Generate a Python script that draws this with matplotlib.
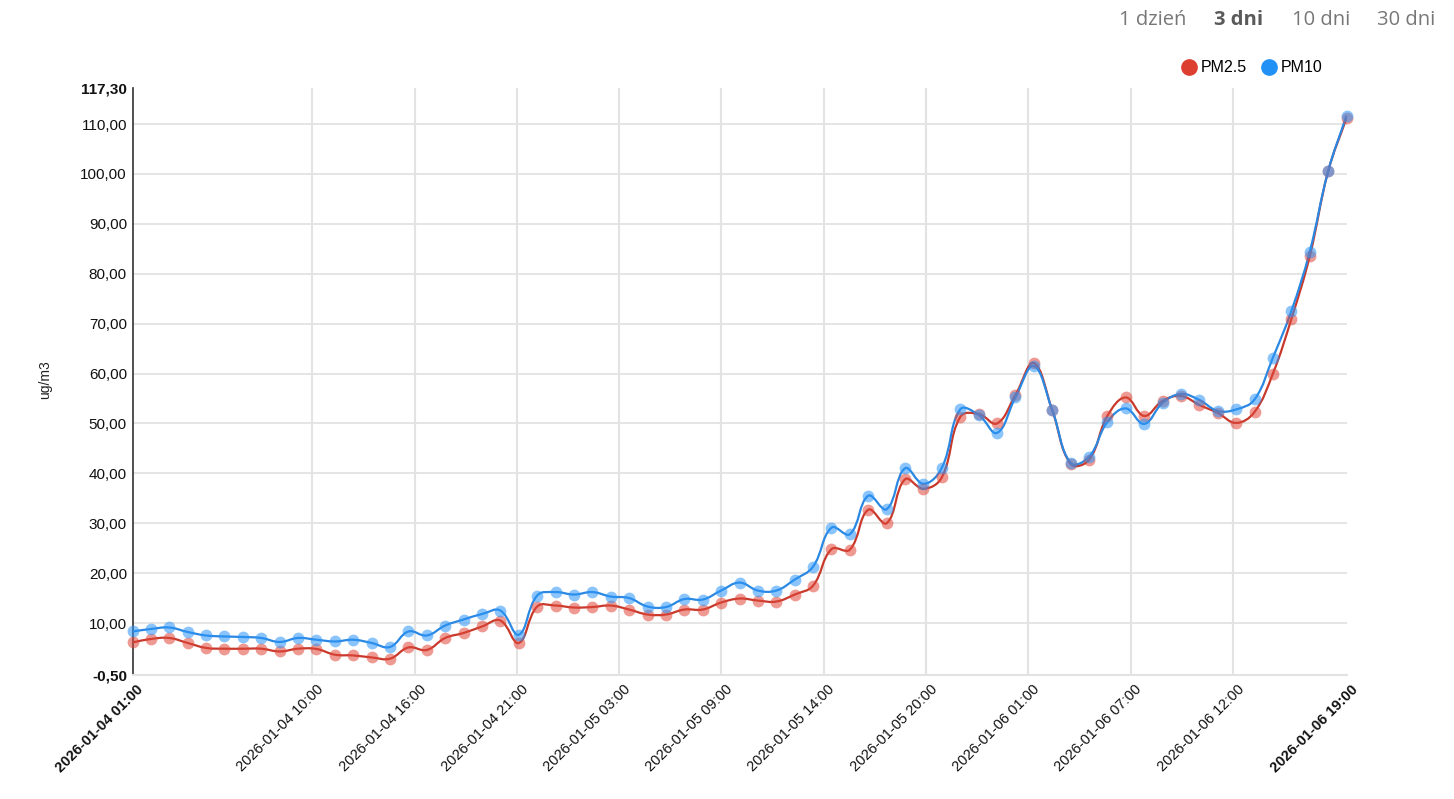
import numpy as np
import pandas as pd
import matplotlib
matplotlib.use('Agg')
import matplotlib.pyplot as plt
import matplotlib.transforms as mtransforms
from matplotlib.path import Path
from matplotlib.patches import PathPatch
from matplotlib.lines import Line2D

# hourly readings, 2026-01-04 01:00 .. 2026-01-06 19:00
hours = pd.date_range('2026-01-04 01:00', periods=67, freq='h').strftime('%Y-%m-%d %H:%M').tolist()

pm25 = [6.1, 6.8, 7.0, 6.0, 5.0, 4.85, 4.85, 4.85, 4.3, 4.85, 4.8, 3.65, 3.5, 3.1, 2.85, 5.1,
        4.6, 7.0, 8.0, 9.3, 10.5, 6.0, 13.3, 13.5, 13.1, 13.2,
        13.5, 12.7, 11.7, 11.7, 12.7, 12.7, 14.1, 14.9, 14.5, 14.3, 15.7, 17.5, 24.8, 24.7,
        32.7, 30.0, 38.8, 36.9, 39.2,
        51.3, 51.9, 50.0, 55.7, 62.1, 52.7, 41.9, 42.7, 51.5, 55.2, 51.5, 54.5, 55.5, 53.7,
        52.1, 50.1, 52.3, 60.0, 70.9, 83.5, 100.5, 111.2]
pm10 = [8.3, 8.8, 9.1, 8.2, 7.5, 7.3, 7.2, 7.0, 6.2, 7.0, 6.65, 6.3, 6.65, 6.0, 5.2, 8.3,
        7.5, 9.5, 10.7, 11.8, 12.5, 7.65, 15.5, 16.2, 15.7, 16.2,
        15.3, 15.0, 13.3, 13.2, 14.8, 14.7, 16.5, 18.1, 16.5, 16.5, 18.7, 21.3, 29.1, 27.8,
        35.5, 32.8, 41.0, 37.9, 41.1,
        52.8, 51.7, 48.1, 55.2, 61.5, 52.7, 42.1, 43.3, 50.3, 53.0, 49.9, 54.1, 55.9, 54.7,
        52.5, 52.8, 54.8, 63.2, 72.5, 84.4, 100.5, 111.7]

y_min, y_max = -0.50, 117.30
y_ticks = [10, 20, 30, 40, 50, 60, 70, 80, 90, 100, 110]
# grid positions of the x axis (in hours from start)
x_grid = [9.78, 15.35, 20.9, 26.46, 32.02, 37.58, 43.14, 48.7, 54.26, 59.82]

RED_LINE, RED_PT = '#c9392b', '#e0473a'
BLUE_LINE, BLUE_PT = '#2a88e2', '#2b95f8'
GRID = '#e3e3e3'

plt.rcParams['font.family'] = ['Liberation Sans', 'DejaVu Sans']


def fmt(v):
    return f'{v:.2f}'.replace('.', ',')


def smooth_path(ax, xs, ys, t=0.4):
    # bezier spline like chart.js (tension 0.4), built in display space
    pts = ax.transData.transform(np.column_stack([xs, ys]))
    n = len(pts)
    cp_in, cp_out = [], []
    for i in range(n):
        p, c, nx = pts[max(i - 1, 0)], pts[i], pts[min(i + 1, n - 1)]
        d01, d12 = np.hypot(*(c - p)), np.hypot(*(nx - c))
        s = d01 + d12
        fa = t * d01 / s if s else 0
        fb = t * d12 / s if s else 0
        cp_in.append(c - fa * (nx - p))
        cp_out.append(c + fb * (nx - p))
    verts, codes = [pts[0]], [Path.MOVETO]
    for i in range(n - 1):
        verts += [cp_out[i], cp_in[i + 1], pts[i + 1]]
        codes += [Path.CURVE4] * 3
    verts = ax.transData.inverted().transform(np.array(verts))
    return Path(verts, codes)


fig = plt.figure(figsize=(14.54, 7.99), dpi=100)
ax = fig.add_axes([132.5 / 1454, 1 - 675.4 / 799, 1214 / 1454, 587.8 / 799])
x = np.arange(len(hours))
ax.set_xlim(0, len(hours) - 1)
ax.set_ylim(y_min, y_max)

# y axis
ax.set_yticks([y_min] + y_ticks + [y_max])
ylabels = ax.set_yticklabels([fmt(v) for v in [y_min] + y_ticks + [y_max]], fontsize=11)
ylabels[0].set_fontweight('bold')
ylabels[-1].set_fontweight('bold')
ax.tick_params(axis='y', length=0, pad=4, colors='#111111')
for v in y_ticks:
    ax.axhline(v, color=GRID, lw=1.3, zorder=0)

# x axis
xt = [0] + x_grid + [len(hours) - 1]
ax.set_xticks(xt)
xlabels = ax.set_xticklabels([hours[int(p)] for p in xt], rotation=45, ha='right', va='top',
                             rotation_mode='anchor', fontsize=10.5, color='#111111')
xlabels[0].set_fontweight('bold')
xlabels[-1].set_fontweight('bold')
ax.tick_params(axis='x', length=0, pad=5)
shift = mtransforms.ScaledTranslation(4 / 100, 0, fig.dpi_scale_trans)
for lab in xlabels:
    lab.set_transform(lab.get_transform() + shift)
for p in x_grid:
    ax.axvline(p, color=GRID, lw=1.5, zorder=0)

for s in ['top', 'right']:
    ax.spines[s].set_visible(False)
ax.spines['bottom'].set_color(GRID)
ax.spines['bottom'].set_linewidth(1.5)
ax.spines['left'].set_color('#333333')
ax.spines['left'].set_linewidth(1.2)

# series
for vals, lc, pc in [(pm25, RED_LINE, RED_PT), (pm10, BLUE_LINE, BLUE_PT)]:
    ax.add_patch(PathPatch(smooth_path(ax, x, vals), fill=False, edgecolor=lc, lw=1.6, zorder=3))
    ax.plot(x, vals, 'o', color=pc, alpha=0.55, markersize=8.5, markeredgewidth=0, zorder=4,
            clip_on=False)

fig.text(45 / 1454, 1 - 380 / 799, 'ug/m3', rotation=90, ha='center', va='center',
         fontsize=10, color='#222222')

# legend
handles = [Line2D([], [], marker='o', linestyle='', color='#dc3f30', markersize=11),
           Line2D([], [], marker='o', linestyle='', color='#2291f6', markersize=11)]
fig.legend(handles, ['PM2.5', 'PM10'], loc='center right', bbox_to_anchor=(1330 / 1454, 1 - 68 / 799),
           ncol=2, frameon=False, fontsize=11.5, handlelength=0.8, handletextpad=0.3,
           columnspacing=1.0, borderpad=0)

# range selector
nav = [('1 dzień', 1119, 'normal'), ('3 dni', 1214, 'bold'), ('10 dni', 1292, 'normal'),
       ('30 dni', 1377, 'normal')]
for label, px, w in nav:
    fig.text(px / 1454, 1 - 20 / 799, label, ha='left', va='center', fontsize=14.5,
             family='Open Sans', fontweight=w, color='#5a5a5a' if w == 'bold' else '#777777')

fig.savefig('out.png', dpi=100)
